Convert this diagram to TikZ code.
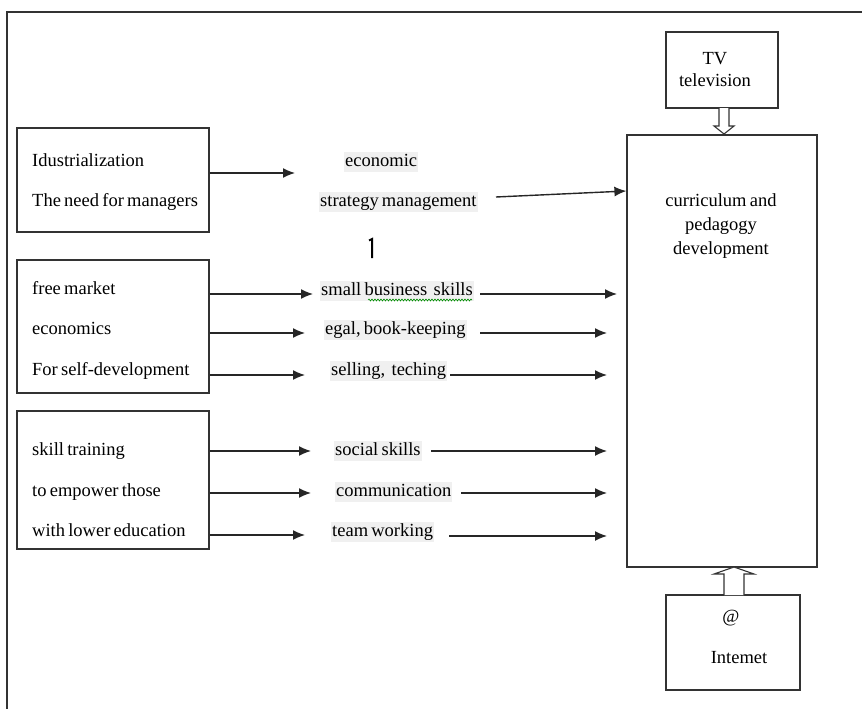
\documentclass[tikz,border=0pt]{standalone}
\usepackage{fontspec}
\setmainfont{Liberation Serif}[WordSpace=0.7]
\usetikzlibrary{arrows.meta,decorations.pathmorphing}
\tikzset{
  box/.style={draw=black!80, line width=1.2pt, inner sep=0pt},
  fnt/.style={font=\fontsize{18.5}{20}\selectfont},
  txt/.style={fnt, anchor=west, inner sep=0pt, text height=13pt, text depth=4pt},
  lab/.style={fnt, anchor=west, inner xsep=1pt, inner ysep=1.5pt, fill=black!6, text height=13pt, text depth=4pt},
  arr/.style={line width=1.4pt, draw=black!85, -{Latex[length=12pt,width=10pt]}},
  hollow/.style={draw=black!80, line width=1.1pt, fill=white},
}
\begin{document}
\begin{tikzpicture}[x=1pt,y=-1pt]
\useasboundingbox (0,0) rectangle (862,709);
% outer frame
\draw[line width=1.3pt, draw=black!80] (7,709) -- (7,12) -- (862,12);

% right side boxes
\node[box, minimum width=112pt, minimum height=76pt] (tv) at (722,70) {};
\node[fnt, align=center, inner sep=0pt] (tvt) at (715,70) {TV\\[2pt]television};
\node[box, minimum width=190pt, minimum height=432pt] (cur) at (722,351) {};
\node[font=\fontsize{18.5}{24}\selectfont, align=center, inner sep=0pt] (curt) at (721,226) {curriculum and\\pedagogy\\development};
\node[box, minimum width=134pt, minimum height=95pt] (net) at (733,642.5) {};
\node[fnt, inner sep=0pt] (at) at (731,618) {@};
\node[fnt, inner sep=0pt] (intemet) at (739,658) {Intemet};

% hollow arrows
\draw[hollow] (719,108) -- (719,126) -- (714,126) -- (724,134) -- (734,126) -- (729,126) -- (729,108);
\draw[hollow] (724,595) -- (724,574) -- (714,574) -- (734,567) -- (754,574) -- (744,574) -- (744,595);

% left boxes
\node[box, minimum width=192pt, minimum height=104pt] (b1) at (113,180) {};
\node[box, minimum width=192pt, minimum height=133pt] (b2) at (113,326.5) {};
\node[box, minimum width=192pt, minimum height=138pt] (b3) at (113,480) {};

\node[txt] (t11) at (32,162) {Idustrialization};
\node[txt] (t12) at (32,202) {The need for managers};
\node[txt] (t21) at (32,290) {free market};
\node[txt] (t22) at (32,330) {economics};
\node[txt] (t23) at (32,371) {For self-development};
\node[txt] (t31) at (32,451) {skill training};
\node[txt] (t32) at (32,492) {to empower those};
\node[txt] (t33) at (32,532) {with lower education};

% middle labels
\node[lab] (econ) at (344,162) {economic};
\node[lab] (strat) at (319,202) {strategy management};
\node[lab] (small) at (320,291) {small business\ \ skills};
\node[lab] (egal) at (324,330) {egal, book-keeping};
\node[lab] (sell) at (330,371) {selling,\ \ teching};
\node[lab] (soc) at (334,451) {social skills};
\node[lab] (comm) at (335,492) {communication};
\node[lab] (team) at (331,532) {team working};

% spell-check underline
\draw[green!55!black, line width=0.6pt, decorate, decoration={snake, amplitude=1pt, segment length=3pt}] (368,300) -- (472,300);

% stray mark
\draw[line width=2pt] (369,240.5) -- (372,239) -- (372,258);

% arrows from left boxes
\coordinate (e1) at (295,173);
\draw[arr] (b1.east |- e1) -- (e1);
\coordinate (e21) at (313,294);
\coordinate (e22) at (305,333);
\coordinate (e23) at (305,375);
\draw[arr] (b2.east |- e21) -- (e21);
\draw[arr] (b2.east |- e22) -- (e22);
\draw[arr] (b2.east |- e23) -- (e23);
\coordinate (e31) at (311,451);
\coordinate (e32) at (311,493);
\coordinate (e33) at (305,535);
\draw[arr] (b3.east |- e31) -- (e31);
\draw[arr] (b3.east |- e32) -- (e32);
\draw[arr] (b3.east |- e33) -- (e33);

% arrows to curriculum box
\coordinate (s1) at (496,197);
\draw[arr] (s1) -- (cur.west |- 0,191);
\coordinate (r21) at (617,294);
\coordinate (r22) at (607,333);
\coordinate (r23) at (607,375);
\coordinate (r31) at (607,451);
\coordinate (r32) at (607,493);
\coordinate (r33) at (607,536);
\draw[arr] (480,294) -- (r21);
\draw[arr] (480,333) -- (r22);
\draw[arr] (450,375) -- (r23);
\draw[arr] (431,451) -- (r31);
\draw[arr] (461,493) -- (r32);
\draw[arr] (449,536) -- (r33);
\end{tikzpicture}
\end{document}
